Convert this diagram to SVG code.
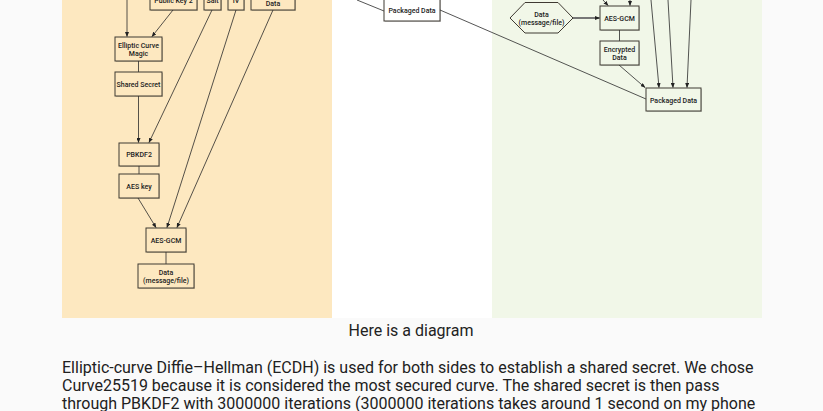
<svg xmlns="http://www.w3.org/2000/svg" width="823" height="411" viewBox="0 0 823 411">
<style>
.bg{fill:#fafafa}
.box{stroke:#3f3a32;stroke-width:1}
.lb{fill:#fde8c0}
.gb{fill:#f1f7e8}
.wb{fill:#ffffff}
.sh{fill:#000;opacity:.18}
.t{font-family:Roboto,"Liberation Sans",sans-serif;font-size:7px;font-weight:500;fill:#222;text-anchor:middle}
.e{fill:none;stroke:#2a2a2a;stroke-width:0.8}
.a{marker-end:url(#ah)}
.cap{font-family:Roboto,"Liberation Sans",sans-serif;font-size:16px;fill:#222;text-anchor:middle}
.p{font-family:Roboto,"Liberation Sans",sans-serif;font-size:16px;fill:#212121}
</style>
<defs>
<marker id="ah" markerUnits="userSpaceOnUse" markerWidth="5" markerHeight="4" refX="4.5" refY="2" orient="auto">
<path d="M0,0 L5,2 L0,4 z" fill="#222"/>
</marker>
</defs>
<rect class="bg" x="0" y="0" width="823" height="411"/>
<rect x="62" y="0" width="270" height="318" fill="#fde8c0"/>
<rect x="332" y="0" width="160" height="318" fill="#ffffff"/>
<rect x="492" y="0" width="270" height="318" fill="#f1f7e8"/>

<g id="connectors">
<path class="e a" d="M127,0 L127,36.5"/>
<path class="e a" d="M173,10 L152,36.5"/>
<path class="e" d="M138.5,61 L138.5,72"/>
<path class="e a" d="M138.5,96 L138.5,142.5"/>
<path class="e a" d="M212,10 L149,142.5"/>
<path class="e" d="M139,166 L139,174"/>
<path class="e a" d="M138,198 L156,227.5"/>
<path class="e a" d="M236,10 L167,227.5"/>
<path class="e a" d="M273,10 L177,227.5"/>
<path class="e" d="M166,252 L166,264"/>
<path class="e" d="M357,0 L384,11"/>
<path class="e" d="M440,10 L646,99"/>
<path class="e a" d="M603,0 L608,5.5"/>
<path class="e a" d="M630,0 L630,5.5"/>
<path class="a" d="M573,18 L599.5,18" fill="none" stroke="#777" stroke-width="2"/>
<path class="e" d="M619.5,30 L619.5,41"/>
<path class="e a" d="M619,65 L645,87.5"/>
<path class="e a" d="M651,0 L659,87.5"/>
<path class="e a" d="M668,0 L673,87.5"/>
<path class="e a" d="M691,0 L687,87.5"/>
</g>

<g id="pk2"><rect class="sh" x="151" y="-13" width="47" height="24"/><rect class="box lb" x="150" y="-14" width="47" height="24"/><text class="t" x="173.5" y="3">Public Key 2</text></g>
<g id="salt"><rect class="sh" x="205" y="-13" width="17" height="24"/><rect class="box lb" x="204" y="-14" width="17" height="24"/><text class="t" x="212.5" y="3">Salt</text></g>
<g id="iv"><rect class="sh" x="229" y="-13" width="16" height="24"/><rect class="box lb" x="228" y="-14" width="16" height="24"/><text class="t" x="236" y="3">IV</text></g>
<g id="data-top"><rect class="sh" x="252" y="-13" width="44" height="24"/><rect class="box lb" x="251" y="-14" width="44" height="24"/><text class="t" x="273" y="5.5">Data</text></g>
<g id="ecm"><rect class="sh" x="116" y="38" width="47" height="24"/><rect class="box lb" x="115" y="37" width="47" height="24"/><text class="t" x="138.5" y="47.5">Elliptic Curve</text><text class="t" x="138.5" y="55.8">Magic</text></g>
<g id="shared-secret"><rect class="sh" x="116" y="73" width="47" height="24"/><rect class="box lb" x="115" y="72" width="47" height="24"/><text class="t" x="138.5" y="86.8">Shared Secret</text></g>
<g id="pbkdf2"><rect class="sh" x="120" y="144" width="40" height="23"/><rect class="box lb" x="119" y="143" width="40" height="23"/><text class="t" x="139" y="156.5">PBKDF2</text></g>
<g id="aes-key"><rect class="sh" x="120" y="175" width="40" height="24"/><rect class="box lb" x="119" y="174" width="40" height="24"/><text class="t" x="139" y="188.5">AES key</text></g>
<g id="aes-gcm-left"><rect class="sh" x="147" y="229" width="40" height="24"/><rect class="box lb" x="146" y="228" width="40" height="24"/><text class="t" x="166" y="242.5">AES-GCM</text></g>
<g id="data-left"><rect class="sh" x="139" y="265" width="56" height="24"/><rect class="box lb" x="138" y="264" width="56" height="24"/><text class="t" x="166" y="275">Data</text><text class="t" x="166" y="283">(message/file)</text></g>

<g id="packaged-mid"><rect class="sh" x="385" y="-2" width="56" height="24"/><rect class="box wb" x="384" y="-3" width="56" height="24"/><text class="t" x="412" y="12.5">Packaged Data</text></g>

<g id="data-hex"><polygon class="box gb" points="510,18 525,2.5 558,2.5 573,18 558,33 525,33"/><text class="t" x="541.5" y="17">Data</text><text class="t" x="541.5" y="25">(message/file)</text></g>
<g id="aes-gcm-right"><rect class="sh" x="601" y="7" width="39" height="24"/><rect class="box gb" x="600" y="6" width="39" height="24"/><text class="t" x="619.5" y="20.8">AES-GCM</text></g>
<g id="encrypted"><rect class="sh" x="601" y="42" width="39" height="24"/><rect class="box gb" x="600" y="41" width="39" height="24"/><text class="t" x="619.5" y="51.8">Encrypted</text><text class="t" x="619.5" y="59.8">Data</text></g>
<g id="packaged-right"><rect class="sh" x="647" y="89" width="55" height="23"/><rect class="box gb" x="646" y="88" width="55" height="23"/><text class="t" x="673.5" y="102.8">Packaged Data</text></g>

<text class="cap" x="411" y="336">Here is a diagram</text>
<text class="p" x="62" y="373">Elliptic-curve Diffie–Hellman (ECDH) is used for both sides to establish a shared secret. We chose</text>
<text class="p" x="62" y="391">Curve25519 because it is considered the most secured curve. The shared secret is then pass</text>
<text class="p" x="62" y="409">through PBKDF2 with 3000000 iterations (3000000 iterations takes around 1 second on my phone</text>
</svg>
